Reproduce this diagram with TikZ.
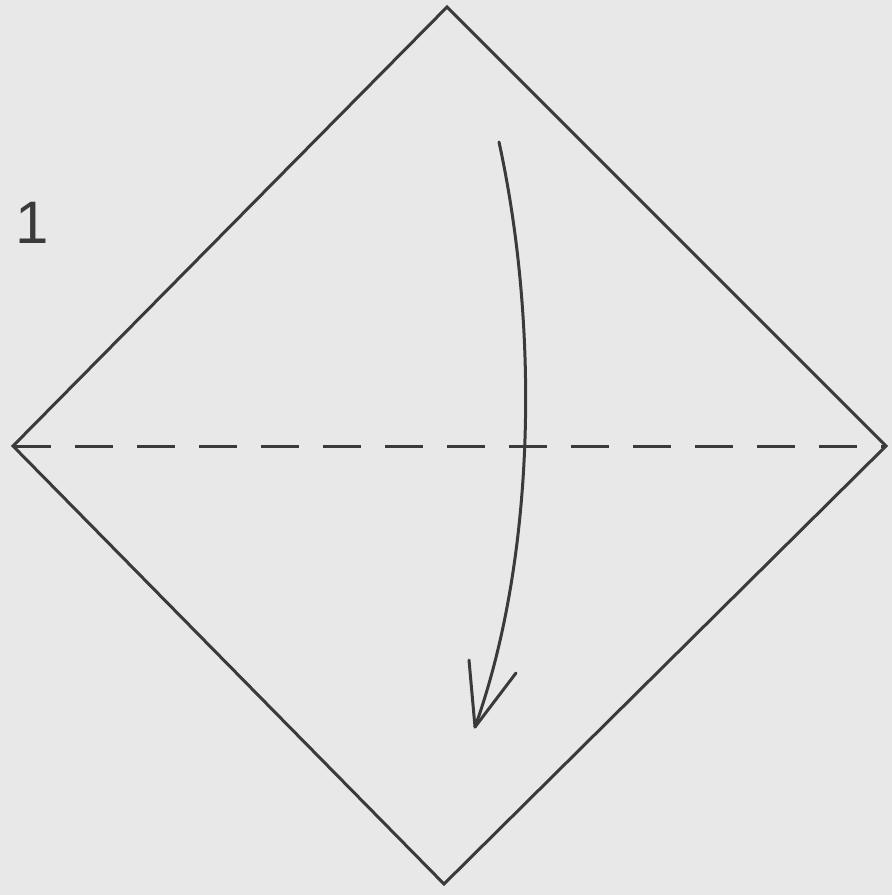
\documentclass[tikz,border=0pt]{standalone}
\usepackage{fontspec}
\setmainfont{Liberation Sans}
\definecolor{bg}{HTML}{E8E8E8}
\definecolor{ink}{HTML}{3A3A3A}
\begin{document}
\begin{tikzpicture}[x=1pt,y=-1pt,
  fold/.style={draw=ink,line width=3pt,line join=miter},
  valley/.style={draw=ink,line width=3pt,dash pattern=on 38pt off 24pt},
  arrowline/.style={draw=ink,line width=3pt,line cap=round}]
\fill[bg] (0,0) rectangle (892,895);
\useasboundingbox (0,0) rectangle (892,895);
\coordinate (T) at (447,7);
\coordinate (L) at (13,446);
\coordinate (R) at (886,446);
\coordinate (B) at (444,884);
\draw[fold] (T) -- (R) -- (B) -- (L) -- cycle;
\draw[valley] (L) -- (R);
\coordinate (S) at (499,142);
\coordinate (E) at (475,727);
\coordinate (H1) at (469,660);
\coordinate (H2) at (516,673);
\draw[arrowline] (S) .. controls (540,330) and (535,560) .. (E);
\draw[arrowline,line join=round] (H1) -- (E) -- (H2);
\node[text=ink,font=\fontsize{60}{60}\selectfont,anchor=base west] (n1) at (12,243) {1};
\end{tikzpicture}
\end{document}
